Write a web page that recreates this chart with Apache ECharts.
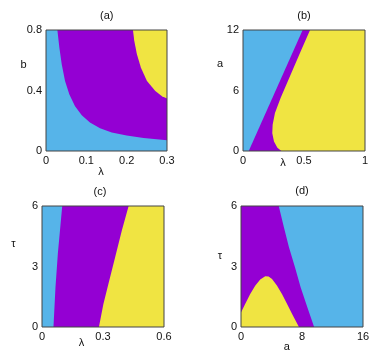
<!DOCTYPE html>
<html>
<head>
<meta charset="utf-8">
<script src="https://cdn.jsdelivr.net/npm/echarts@6/dist/echarts.min.js"></script>
<style>html,body{margin:0;padding:0;background:#fff}#c{width:379px;height:357px}</style>
</head>
<body>
<div id="c"></div>
<script>
// Panel (a): lambda vs b
const aX = [0, 0.3], aY = [0, 0.8];
const aXTicks = [0, 0.1, 0.2, 0.3], aYTicks = [0, 0.4, 0.8];
const aCyanPurple = [[0.0282,0.8],[0.0331,0.684],[0.039,0.573],[0.0472,0.462],[0.058,0.373],[0.072,0.296],[0.0887,0.236],[0.109,0.189],[0.134,0.151],[0.163,0.122],[0.2,0.102],[0.242,0.0867],[0.3,0.071]];
const aPurpleYellow = [[0.2155,0.8],[0.2188,0.729],[0.2254,0.64],[0.2354,0.551],[0.2503,0.462],[0.271,0.396],[0.2876,0.362],[0.3,0.347]];
// Panel (b): lambda vs a
const bX = [0, 1], bY = [0, 12];
const bXTicks = [0, 0.5, 1], bYTicks = [0, 6, 12];
const bCyanPurple = [[0.047,0],[0.489,12]];
const bPurpleYellow = [[0.315,0],[0.282,0.33],[0.254,0.93],[0.240,1.77],[0.243,2.6],[0.262,3.77],[0.309,5.27],[0.392,7.6],[0.475,9.93],[0.5497,12]];
// Panel (c): lambda vs tau
const cX = [0, 0.6], cY = [0, 6];
const cXTicks = [0, 0.3, 0.6], cYTicks = [0, 3, 6];
const cCyanPurple = [[0.0564,0],[0.0663,1.97],[0.0779,3.63],[0.0995,6]];
const cPurpleYellow = [[0.280,0],[0.3017,1.13],[0.3265,2.13],[0.360,3.47],[0.393,4.8],[0.426,6]];
// Panel (d): a vs tau
const dX = [0, 16], dY = [0, 6];
const dXTicks = [0, 8, 16], dYTicks = [0, 3, 6];
const dPurpleCyan = [[9.59,0],[8.71,0.97],[7.82,1.97],[7.07,2.97],[6.28,3.97],[5.61,4.97],[4.95,6]];
const dYellowHump = [[0,0.72],[0.53,1.13],[1.19,1.63],[1.86,2.05],[2.52,2.35],[3.18,2.52],[3.62,2.5],[4.07,2.38],[4.73,2.05],[5.39,1.63],[6.06,1.13],[6.72,0.63],[7.6,0]];

const CYAN = '#56B4E9', PURPLE = '#9400D3', YELLOW = '#F0E442';

const polys = [
  // panel a
  {g:0, color:PURPLE, pts:[[aX[0],aY[0]],[aX[0],aY[1]],[aX[1],aY[1]],[aX[1],aY[0]]]},
  {g:0, color:CYAN, pts:[[aX[0],aY[0]],[aX[0],aY[1]]].concat(aCyanPurple,[[aX[1],aY[0]]])},
  {g:0, color:YELLOW, pts:aPurpleYellow.concat([[aX[1],aY[1]]])},
  // panel b
  {g:1, color:PURPLE, pts:[[bX[0],bY[0]],[bX[0],bY[1]],[bX[1],bY[1]],[bX[1],bY[0]]]},
  {g:1, color:CYAN, pts:[[bX[0],bY[0]]].concat(bCyanPurple,[[bX[0],bY[1]]])},
  {g:1, color:YELLOW, pts:bPurpleYellow.concat([[bX[1],bY[1]],[bX[1],bY[0]]])},
  // panel c
  {g:2, color:PURPLE, pts:[[cX[0],cY[0]],[cX[0],cY[1]],[cX[1],cY[1]],[cX[1],cY[0]]]},
  {g:2, color:CYAN, pts:[[cX[0],cY[0]]].concat(cCyanPurple,[[cX[0],cY[1]]])},
  {g:2, color:YELLOW, pts:cPurpleYellow.concat([[cX[1],cY[1]],[cX[1],cY[0]]])},
  // panel d
  {g:3, color:CYAN, pts:[[dX[0],dY[0]],[dX[0],dY[1]],[dX[1],dY[1]],[dX[1],dY[0]]]},
  {g:3, color:PURPLE, pts:[[dX[0],dY[0]]].concat(dPurpleCyan,[[dX[0],dY[1]]])},
  {g:3, color:YELLOW, pts:[[dX[0],dY[0]]].concat(dYellowHump)}
];

const grids = [
  {left:46, top:30, width:121, height:121},
  {left:243, top:30, width:122, height:121},
  {left:42, top:206, width:122, height:121},
  {left:241, top:206, width:122, height:121}
];
const ranges = [[aX,aY,aXTicks,aYTicks],[bX,bY,bXTicks,bYTicks],[cX,cY,cXTicks,cYTicks],[dX,dY,dXTicks,dYTicks]];

const FONT = 'Liberation Sans, Arial, sans-serif';
const labelStyle = {fontSize:11, color:'#111', fontFamily:FONT};

const xAxis = ranges.map((r,i)=>({
  type:'value', gridIndex:i, min:r[0][0], max:r[0][1], interval:r[2][1]-r[2][0],
  axisLine:{show:false}, axisTick:{show:false}, splitLine:{show:false},
  axisLabel:Object.assign({margin:4, showMinLabel:true, showMaxLabel:true}, labelStyle)
}));
const yAxis = ranges.map((r,i)=>({
  type:'value', gridIndex:i, min:r[1][0], max:r[1][1], interval:r[3][1]-r[3][0],
  axisLine:{show:false}, axisTick:{show:false}, splitLine:{show:false},
  axisLabel:Object.assign({margin:4}, labelStyle)
}));

const series = polys.map((p)=>({
  type:'custom', xAxisIndex:p.g, yAxisIndex:p.g, coordinateSystem:'cartesian2d',
  clip:true, silent:true, animation:false,
  data:[p.pts[0]],
  renderItem:function(params, api){
    return {type:'polygon', shape:{points:p.pts.map(q=>api.coord(q))}, style:{fill:p.color, stroke:null}};
  }
}));

function txt(x,y,t,size){
  return {type:'text', x:x, y:y, z:100, style:{text:t, font: size+'px '+FONT, fill:'#111', textAlign:'center', textVerticalAlign:'middle'}};
}
const graphic = [
  txt(106.7,15.7,'(a)',11), txt(304,15.7,'(b)',11), txt(100,191.5,'(c)',11), txt(302,191,'(d)',11),
  txt(23.5,65,'b',11), txt(101,172,'λ',11),
  txt(220,64,'a',11), txt(283,162.5,'λ',11),
  txt(13.3,243.7,'τ',11), txt(81.5,343,'λ',11),
  txt(220,256,'τ',11), txt(286.7,347,'a',11)
];

const chart = echarts.init(document.getElementById('c'), null, {renderer:'canvas'});
chart.setOption({
  animation:false,
  grid: grids.map(g=>Object.assign({show:true, z:10, backgroundColor:'transparent', borderColor:'#444', borderWidth:1}, g)),
  xAxis:xAxis, yAxis:yAxis, series:series, graphic:graphic
});
</script>
</body>
</html>
